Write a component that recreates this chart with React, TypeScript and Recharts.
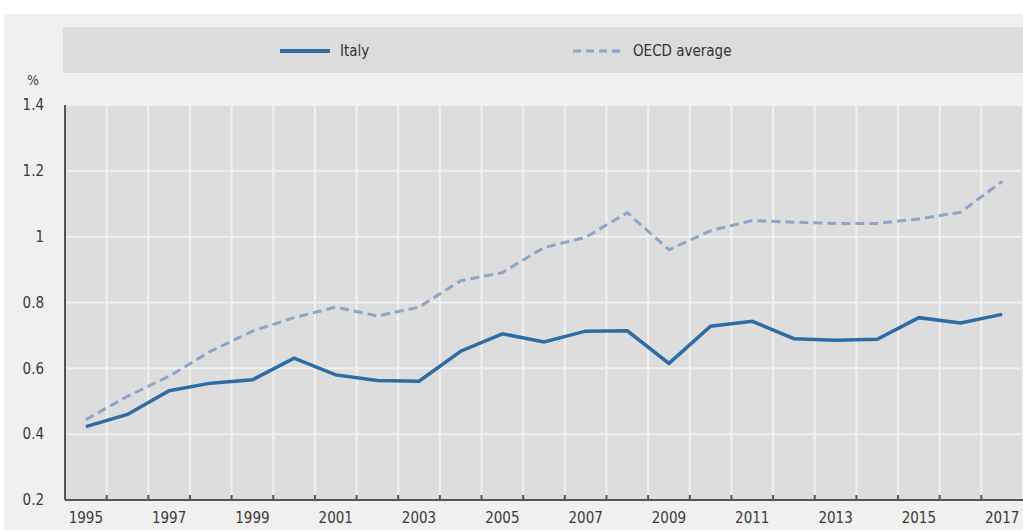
import { LineChart, Line, XAxis, YAxis, CartesianGrid } from "recharts";

const years = [1995, 1996, 1997, 1998, 1999, 2000, 2001, 2002, 2003, 2004, 2005, 2006, 2007, 2008, 2009, 2010, 2011, 2012, 2013, 2014, 2015, 2016, 2017];
const italy = [0.423, 0.46, 0.532, 0.555, 0.565, 0.631, 0.58, 0.563, 0.561, 0.652, 0.705, 0.68, 0.713, 0.714, 0.615, 0.728, 0.743, 0.69, 0.685, 0.688, 0.754, 0.738, 0.764];
const oecd = [0.444, 0.515, 0.576, 0.652, 0.713, 0.754, 0.786, 0.759, 0.786, 0.866, 0.891, 0.967, 0.998, 1.073, 0.96, 1.018, 1.049, 1.044, 1.04, 1.04, 1.054, 1.074, 1.168];
const yTicks = [0.2, 0.4, 0.6, 0.8, 1, 1.2, 1.4];
const labelYears = years.filter((y) => y % 2 === 1);
const bounds = years.slice(1).map((y) => y - 0.5);

const data = years.map((year, i) => ({ year, italy: italy[i], oecd: oecd[i] }));

const font = "'Liberation Sans Narrow', 'DejaVu Sans Condensed', 'Liberation Sans', sans-serif";
const tickStyle = { fill: "#3a3a3a", fontSize: 15, fontFamily: font, fontStretch: "condensed" };

const App = () => {
  return (
    <div style={{ position: "absolute", left: 0, top: 0, width: 1023, height: 530, background: "#fff", fontFamily: font, fontStretch: "condensed" }}>
      <div style={{ position: "absolute", left: 4, top: 14, width: 1019, height: 516, background: "#f0f0f0" }} />
      <div style={{ position: "absolute", left: 63, top: 27, width: 960, height: 46, background: "#dcdcdc" }}>
        <svg width={960} height={46} style={{ position: "absolute", left: 0, top: 0 }}>
          <line x1={217} x2={267} y1={24} y2={24} stroke="#2e6da4" strokeWidth={4} />
          <text x={277} y={29} fontSize={15} fill="#333" fontFamily={font} style={{ fontStretch: "condensed" }}>Italy</text>
          <line x1={510} x2={562} y1={24} y2={24} stroke="#8ea4c8" strokeWidth={3} strokeDasharray="8 5" />
          <text x={570} y={29} fontSize={15} fill="#333" fontFamily={font} style={{ fontStretch: "condensed" }}>OECD average</text>
        </svg>
      </div>
      <div style={{ position: "absolute", left: 27, top: 72, fontSize: 14, color: "#404040" }}>%</div>
      <div style={{ position: "absolute", left: 0, top: 0 }}>
        <LineChart width={1023} height={530} data={data} margin={{ top: 105, right: 0, bottom: 0, left: 0 }}>
          <CartesianGrid xAxisId="bounds" fill="#dddddd" stroke="#f1f1f1" strokeWidth={2} />
          <XAxis
            xAxisId="bounds"
            dataKey="year"
            type="number"
            domain={[1994.5, 2017.5]}
            ticks={bounds}
            interval={0}
            mirror
            tick={() => <g />}
            tickSize={5}
            axisLine={{ stroke: "#555", strokeWidth: 2 }}
            tickLine={{ stroke: "#555", strokeWidth: 2 }}
            height={2}
          />
          <XAxis
            xAxisId="year"
            dataKey="year"
            type="number"
            domain={[1994.5, 2017.5]}
            ticks={labelYears}
            interval={0}
            axisLine={false}
            tickLine={false}
            tick={tickStyle}
            height={30}
            tickMargin={6}
          />
          <YAxis
            type="number"
            domain={[0.2, 1.4]}
            ticks={yTicks}
            interval={0}
            width={65}
            axisLine={{ stroke: "#555", strokeWidth: 2 }}
            tickLine={false}
            tick={tickStyle}
            tickMargin={15}
          />
          <Line xAxisId="bounds" dataKey="oecd" stroke="#8ea4c8" strokeWidth={3} strokeDasharray="9 5" dot={false} isAnimationActive={false} />
          <Line xAxisId="year" dataKey="italy" stroke="#2e6da4" strokeWidth={3.5} dot={false} isAnimationActive={false} />
        </LineChart>
      </div>
    </div>
  );
};

export default App;
